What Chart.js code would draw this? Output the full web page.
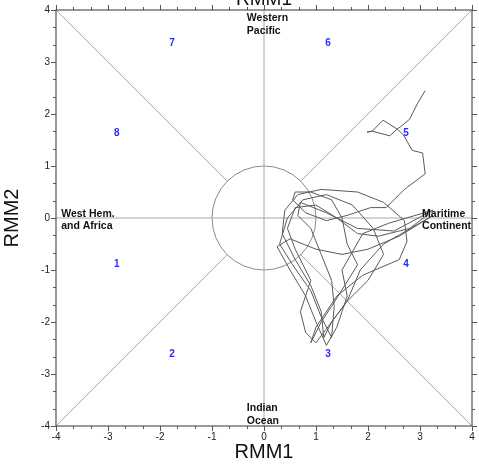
<!DOCTYPE html>
<html><head><meta charset="utf-8">
<script src="https://cdn.jsdelivr.net/npm/chart.js@4"></script>
<style>html,body{margin:0;padding:0;background:#fff}canvas{display:block}</style>
</head><body>
<canvas id="c" width="479" height="464"></canvas>
<script>
// MJO trajectory (RMM1, RMM2)
const rmm1 = [3.1,2.95,2.8,2.62,2.56,2.42,2.08,1.98,2.08,2.29,2.56,2.68,2.85,3.05,3.1,2.7,2.35,2.05,
  1.6,1.2,0.8,0.55,0.6,0.9,1.3,1.5,1.6,1.8,1.55,1.3,1.1,0.9,
  1.0,1.4,1.9,2.6,2.75,2.7,2.3,1.8,1.1,0.65,0.4,0.35,0.6,0.9,1.1,1.15,
  1.3,1.6,1.85,2.3,3.25,2.6,2.0,1.5,1.0,0.5,0.25,0.5,0.8,1.0,1.2,
  1.4,1.5,1.6,1.5,1.9,2.4,3.25,2.5,1.8,1.2,0.7,0.65,0.9,1.1,1.3,1.35,1.3,
  1.1,0.9,0.55,0.3,0.45,0.75,1.2,1.7,2.1,2.3,2.0,1.6,1.3,1.0,
  0.8,0.7,0.9,0.6,0.45,0.6,1.0,1.4,1.8,2.2,2.8,3.2];
const rmm2 = [2.45,2.2,1.9,1.75,1.71,1.58,1.67,1.65,1.67,1.88,1.71,1.6,1.3,1.25,0.85,0.55,0.2,0.2,
  0.05,-0.05,0.1,0.35,0.5,0.5,0.35,0.0,-0.5,-0.9,-1.3,-1.7,-2.0,-2.4,
  -2.1,-1.5,-1.1,-0.8,-0.45,-0.05,0.3,0.5,0.55,0.45,0.15,-0.3,-0.8,-1.3,-1.8,-2.3,
  -2.0,-1.6,-1.0,-0.5,0.05,-0.35,-0.6,-0.7,-0.6,-0.4,-0.55,-1.0,-1.5,-2.0,-2.45,
  -2.1,-1.8,-1.5,-1.0,-0.3,-0.1,0.15,-0.25,-0.2,0.1,0.3,0.05,-0.2,-0.7,-1.2,-1.7,-2.3,
  -1.9,-1.4,-0.9,-0.5,0.0,0.35,0.45,0.25,-0.2,-0.7,-1.2,-1.6,-2.0,-2.4,
  -2.2,-1.8,-1.2,-0.6,-0.2,0.2,0.25,0.0,-0.3,-0.35,-0.2,0.1];

// Phase numbers and their positions
const phaseNames = ['1','2','3','4','5','6','7','8'];
const phaseX = [-2.83,-1.77,1.23,2.73,2.73,1.23,-1.77,-2.83];
const phaseY = [-0.88,-2.62,-2.62,-0.88,1.63,3.37,3.37,1.63];

// Region labels
const regionNames = [['Western','Pacific'],['West Hem.','and Africa'],['Maritime','Continent'],['Indian','Ocean']];
const regionX = [-0.33,-3.9,3.04,-0.33];
const regionY = [3.84,0.08,0.08,-3.66];

const tickValues = [-4,-3,-2,-1,0,1,2,3,4];
const axisLim = 4;
const c45 = Math.SQRT1_2;

const refSegments = [
  [[-axisLim,0],[axisLim,0]],
  [[0,-axisLim],[0,axisLim]],
  [[-axisLim,axisLim],[-c45,c45]],
  [[c45,c45],[axisLim,axisLim]],
  [[-axisLim,-axisLim],[-c45,-c45]],
  [[c45,-c45],[axisLim,-axisLim]]
];

const refDatasets = refSegments.map(s => ({
  data: s.map(p => ({x:p[0], y:p[1]})),
  showLine: true, borderColor: '#a8a8a8', borderWidth: 1, pointRadius: 0, order: 2
}));

const FONT = '"Liberation Sans", Arial, sans-serif';

const decor = {
  id: 'decor',
  beforeDatasetsDraw(chart) {
    const {ctx, scales:{x, y}} = chart;
    ctx.save();
    ctx.strokeStyle = '#8a8a8a'; ctx.lineWidth = 1;
    ctx.beginPath();
    ctx.arc(x.getPixelForValue(0), y.getPixelForValue(0), x.getPixelForValue(1)-x.getPixelForValue(0), 0, Math.PI*2);
    ctx.stroke();
    ctx.restore();
  },
  afterDatasetsDraw(chart) {
    const {ctx, scales:{x, y}, chartArea:a} = chart;
    ctx.save();
    ctx.strokeStyle = '#555'; ctx.lineWidth = 1.2;
    ctx.strokeRect(a.left, a.top, a.right-a.left, a.bottom-a.top);
    ctx.lineWidth = 1; ctx.strokeStyle = '#555';
    ctx.beginPath();
    for (let k = 0; k <= 24; k++) {
      const v = -axisLim + k/3;
      const L = (k % 3 === 0) ? 5 : 3;
      const px = Math.round(x.getPixelForValue(v)) + 0.5;
      const py = Math.round(y.getPixelForValue(v)) + 0.5;
      ctx.moveTo(px, a.bottom); ctx.lineTo(px, a.bottom + L);
      ctx.moveTo(px, a.top); ctx.lineTo(px, a.top - L);
      ctx.moveTo(a.left, py); ctx.lineTo(a.left - L, py);
      ctx.moveTo(a.right, py); ctx.lineTo(a.right + L, py);
    }
    ctx.stroke();
    ctx.fillStyle = '#2a2aff';
    ctx.font = 'bold 10px ' + FONT;
    ctx.textAlign = 'center'; ctx.textBaseline = 'middle';
    phaseNames.forEach((t,i) => ctx.fillText(t, x.getPixelForValue(phaseX[i]), y.getPixelForValue(phaseY[i])));
    ctx.fillStyle = '#111';
    ctx.textAlign = 'left';
    ctx.font = 'bold 10.5px ' + FONT;
    regionNames.forEach((lines,i) => {
      const px = x.getPixelForValue(regionX[i]), py = y.getPixelForValue(regionY[i]);
      lines.forEach((t,j) => ctx.fillText(t, px, py + j*12.5));
    });
    ctx.fillStyle = '#111';
    ctx.font = '19px ' + FONT;
    ctx.textAlign = 'center'; ctx.textBaseline = 'alphabetic';
    ctx.fillText('RMM1', x.getPixelForValue(0), 5);
    ctx.restore();
  }
};

new Chart(document.getElementById('c'), {
  type: 'scatter',
  data: {
    datasets: [
      { data: rmm1.map((v,i) => ({x:v, y:rmm2[i]})), showLine: true, borderColor: '#5a5a5a', borderWidth: 1, pointRadius: 0, order: 1 },
      ...refDatasets
    ]
  },
  options: {
    responsive: false, animation: false,
    layout: { padding: { top: 10, right: 7, left: 0, bottom: 0 } },
    plugins: { legend: { display: false }, tooltip: { enabled: false } },
    scales: {
      x: {
        type: 'linear', min: -axisLim, max: axisLim,
        afterFit: s => { s.height = 38; },
        afterBuildTicks: s => { s.ticks = tickValues.map(v => ({value: v})); },
        grid: { display: false, drawTicks: true, tickLength: 4 },
        border: { display: false },
        ticks: { font: { size: 10, family: FONT }, color: '#222', padding: 1, maxRotation: 0 },
        title: { display: true, text: 'RMM1', font: { size: 20, family: FONT }, color: '#111', padding: { top: 0, bottom: 0 } }
      },
      y: {
        type: 'linear', min: -axisLim, max: axisLim,
        afterFit: s => { s.width = 56; },
        afterBuildTicks: s => { s.ticks = tickValues.map(v => ({value: v})); },
        grid: { display: false, drawTicks: true, tickLength: 4 },
        border: { display: false },
        ticks: { font: { size: 10, family: FONT }, color: '#222', padding: 2 },
        title: { display: true, text: 'RMM2', font: { size: 20, family: FONT }, color: '#111', padding: { top: 0, bottom: 4 } }
      }
    }
  },
  plugins: [decor]
});
</script>
</body></html>
